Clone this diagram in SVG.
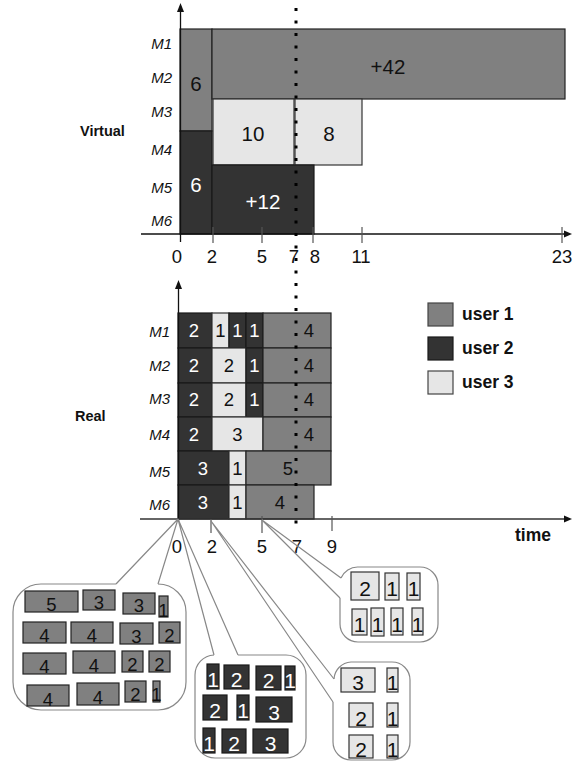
<svg xmlns="http://www.w3.org/2000/svg" width="573" height="767" viewBox="0 0 573 767">
<style>
text{font-family:"Liberation Sans",Arial,sans-serif;fill:#111}
.g{fill:#808080;stroke:#222;stroke-width:1.2}
.d{fill:#333;stroke:#1a1a1a;stroke-width:1.2}
.l{fill:#e6e6e6;stroke:#333;stroke-width:1.2}
.n{font-size:20.5px;text-anchor:middle}
.rn{font-size:18.5px;text-anchor:middle}
.w{fill:#fff}
.m{font-size:15px;font-style:italic;text-anchor:end}
.ax{font-size:18.5px;text-anchor:middle}
.b{font-weight:bold;font-size:17px}
.bub{fill:none;stroke:#888;stroke-width:1.2}
.tick{stroke:#555;stroke-width:1.2}
.axis{stroke:#111;stroke-width:1.3;fill:none}
.arr{fill:#111}
.b1{font-size:18.5px;text-anchor:middle}
.b2{font-size:21px;text-anchor:middle}
.dot{stroke:#000;stroke-width:3;stroke-dasharray:3 9.5;fill:none}
</style>
<rect x="0" y="0" width="573" height="767" fill="#fff"/>

<g id="virtual-chart">
  <rect class="g" x="180" y="29" width="32" height="102"/>
  <rect class="g" x="212" y="29" width="353" height="70"/>
  <rect class="l" x="213" y="99" width="81" height="66"/>
  <rect class="l" x="295" y="99" width="67" height="66"/>
  <rect class="d" x="180" y="131" width="32" height="103"/>
  <rect class="d" x="212" y="165" width="102" height="69"/>
  <text class="n" x="196" y="91">6</text>
  <text class="n" x="388" y="74">+42</text>
  <text class="n" x="253" y="141">10</text>
  <text class="n" x="329" y="141">8</text>
  <text class="n w" x="196" y="192">6</text>
  <text class="n w" x="263" y="209">+12</text>
  <text class="m" x="172" y="49">M1</text>
  <text class="m" x="172" y="83">M2</text>
  <text class="m" x="172" y="117">M3</text>
  <text class="m" x="172" y="155">M4</text>
  <text class="m" x="172" y="193">M5</text>
  <text class="m" x="172" y="226">M6</text>
  <text class="b" x="80" y="136" style="font-size:14.5px">Virtual</text>
  <line class="axis" x1="180.5" y1="242" x2="180.5" y2="10"/>
  <polygon class="arr" points="180.5,3 177,12 184,12"/>
  <line class="axis" x1="141" y1="234" x2="565" y2="234"/>
  <polygon class="arr" points="572,234 564,230.5 564,237.5"/>
  <line class="tick" x1="213" y1="227" x2="213" y2="243"/>
  <line class="tick" x1="262" y1="227" x2="262" y2="243"/>
  <line class="tick" x1="313" y1="227" x2="313" y2="243"/>
  <line class="tick" x1="362" y1="227" x2="362" y2="243"/>
  <line class="tick" x1="562" y1="227" x2="562" y2="243"/>
  <text class="ax" x="177" y="263">0</text>
  <text class="ax" x="212" y="263">2</text>
  <text class="ax" x="262" y="263">5</text>
  <text class="ax" x="294" y="263">7</text>
  <text class="ax" x="315" y="263">8</text>
  <text class="ax" x="361" y="263">11</text>
  <text class="ax" x="562" y="263">23</text>
</g>

<g id="real-chart">
  <rect class="d" x="178" y="313" width="34" height="35"/>
  <rect class="l" x="212" y="313" width="17" height="35"/>
  <rect class="d" x="229" y="313" width="17" height="35"/>
  <rect class="d" x="246" y="313" width="17" height="35"/>
  <rect class="g" x="263" y="313" width="68" height="35"/>
  <rect class="d" x="178" y="348" width="34" height="35"/>
  <rect class="l" x="212" y="348" width="34" height="35"/>
  <rect class="d" x="246" y="348" width="17" height="35"/>
  <rect class="g" x="263" y="348" width="68" height="35"/>
  <rect class="d" x="178" y="383" width="34" height="34"/>
  <rect class="l" x="212" y="383" width="34" height="34"/>
  <rect class="d" x="246" y="383" width="17" height="34"/>
  <rect class="g" x="263" y="383" width="68" height="34"/>
  <rect class="d" x="178" y="417" width="34" height="34"/>
  <rect class="l" x="212" y="417" width="51" height="34"/>
  <rect class="g" x="263" y="417" width="68" height="34"/>
  <rect class="d" x="178" y="451" width="51" height="34"/>
  <rect class="l" x="229" y="451" width="17" height="34"/>
  <rect class="g" x="246" y="451" width="85" height="34"/>
  <rect class="d" x="178" y="485" width="51" height="34"/>
  <rect class="l" x="229" y="485" width="17" height="34"/>
  <rect class="g" x="246" y="485" width="68" height="34"/>
  <text class="rn w" x="194" y="337">2</text>
  <text class="rn" x="220.5" y="337">1</text>
  <text class="rn w" x="237.5" y="337">1</text>
  <text class="rn w" x="254.5" y="337">1</text>
  <text class="rn" x="309" y="337">4</text>
  <text class="rn w" x="194" y="372">2</text>
  <text class="rn" x="229" y="372">2</text>
  <text class="rn w" x="254.5" y="372">1</text>
  <text class="rn" x="309" y="372">4</text>
  <text class="rn w" x="194" y="406">2</text>
  <text class="rn" x="229" y="406">2</text>
  <text class="rn w" x="254.5" y="406">1</text>
  <text class="rn" x="309" y="406">4</text>
  <text class="rn w" x="194" y="441">2</text>
  <text class="rn" x="237.5" y="441">3</text>
  <text class="rn" x="309" y="441">4</text>
  <text class="rn w" x="203" y="475">3</text>
  <text class="rn" x="237.5" y="475">1</text>
  <text class="rn" x="288" y="475">5</text>
  <text class="rn w" x="203" y="509">3</text>
  <text class="rn" x="237.5" y="509">1</text>
  <text class="rn" x="280" y="509">4</text>
  <text class="m" x="170" y="337">M1</text>
  <text class="m" x="170" y="371">M2</text>
  <text class="m" x="170" y="404">M3</text>
  <text class="m" x="170" y="440">M4</text>
  <text class="m" x="170" y="477">M5</text>
  <text class="m" x="170" y="510">M6</text>
  <text class="b" x="75" y="421" style="font-size:14.5px">Real</text>
  <line class="axis" x1="178.5" y1="522" x2="178.5" y2="287"/>
  <polygon class="arr" points="178.5,280 175,289 182,289"/>
  <line class="axis" x1="140" y1="519" x2="565" y2="519" style="stroke:#333"/>
  <polygon class="arr" points="572,519 564,515.5 564,522.5"/>
  <line class="tick" x1="211" y1="519" x2="211" y2="533"/>
  <line class="tick" x1="262" y1="516" x2="262" y2="533"/>
  <line class="tick" x1="332" y1="516" x2="332" y2="531"/>
  <text class="ax" x="177" y="553">0</text>
  <text class="ax" x="212" y="553">2</text>
  <text class="ax" x="262" y="553">5</text>
  <text class="ax" x="297" y="553">7</text>
  <text class="ax" x="332" y="553">9</text>
  <text class="b" x="515" y="541" style="font-size:17.5px">time</text>
</g>

<g id="legend">
  <rect class="g" x="428" y="303" width="25" height="23" style="stroke:#444"/>
  <rect class="d" x="428" y="337" width="25" height="23"/>
  <rect class="l" x="428" y="371" width="25" height="23" style="stroke:#444"/>
  <text class="b" x="462" y="320" style="font-size:17.5px">user 1</text>
  <text class="b" x="462" y="354" style="font-size:17.5px">user 2</text>
  <text class="b" x="462" y="388" style="font-size:17.5px">user 3</text>
</g>

<g id="now-line">
  <line class="dot" x1="296" y1="8" x2="296" y2="530"/>
</g>

<g id="connectors">
  <polyline class="bub" points="116,584 178,519 158,584"/>
  <polyline class="bub" points="214,655 178,519 238,655"/>
  <polyline class="bub" points="334,679 211,521 333,702"/>
  <polyline class="bub" points="341,578 262,520 340,598"/>
</g>

<g id="bubble-user1">
  <path class="bub" d="M158,584 A28 28 0 0 1 186,612 L186,682 A28 28 0 0 1 158,710 L41,710 A28 28 0 0 1 13,682 L13,612 A28 28 0 0 1 41,584 L116,584"/>
  <rect class="g" x="25" y="591" width="53" height="21"/>
  <rect class="g" x="83" y="590" width="32" height="20"/>
  <rect class="g" x="123" y="593" width="32" height="21"/>
  <rect class="g" x="159" y="596" width="9" height="21"/>
  <rect class="g" x="23" y="622" width="43" height="21"/>
  <rect class="g" x="71" y="622" width="42" height="21"/>
  <rect class="g" x="120" y="623" width="33" height="21"/>
  <rect class="g" x="159" y="622" width="21" height="21"/>
  <rect class="g" x="23" y="653" width="43" height="21"/>
  <rect class="g" x="73" y="651" width="42" height="22"/>
  <rect class="g" x="122" y="651" width="21" height="21"/>
  <rect class="g" x="149" y="651" width="21" height="21"/>
  <rect class="g" x="27" y="685" width="42" height="21"/>
  <rect class="g" x="77" y="683" width="42" height="22"/>
  <rect class="g" x="125" y="681" width="21" height="21"/>
  <rect class="g" x="153" y="681" width="7" height="21"/>
  <text class="b1" x="51.5" y="611">5</text>
  <text class="b1" x="99" y="609">3</text>
  <text class="b1" x="139" y="612">3</text>
  <text class="b1" x="163.5" y="617">1</text>
  <text class="b1" x="44.5" y="642">4</text>
  <text class="b1" x="92" y="642">4</text>
  <text class="b1" x="136.5" y="643">3</text>
  <text class="b1" x="169.5" y="642">2</text>
  <text class="b1" x="44.5" y="673">4</text>
  <text class="b1" x="94" y="672">4</text>
  <text class="b1" x="132.5" y="671">2</text>
  <text class="b1" x="159.5" y="671">2</text>
  <text class="b1" x="48" y="706">4</text>
  <text class="b1" x="98" y="704">4</text>
  <text class="b1" x="135.5" y="701">2</text>
  <text class="b1" x="156.5" y="701">1</text>
</g>

<g id="bubble-user2">
  <path class="bub" d="M238,655 L286,655 A20 20 0 0 1 306,675 L306,738 A20 20 0 0 1 286,758 L215,758 A20 20 0 0 1 195,738 L195,675 A20 20 0 0 1 214,655"/>
  <rect class="d" x="207" y="664" width="12" height="25"/>
  <rect class="d" x="224" y="665" width="25" height="24"/>
  <rect class="d" x="256" y="666" width="25" height="24"/>
  <rect class="d" x="285" y="666" width="10" height="24"/>
  <rect class="d" x="203" y="695" width="24" height="25"/>
  <rect class="d" x="237" y="695" width="12" height="25"/>
  <rect class="d" x="256" y="697" width="36" height="25"/>
  <rect class="d" x="203" y="728" width="12" height="25"/>
  <rect class="d" x="222" y="729" width="24" height="24"/>
  <rect class="d" x="253" y="729" width="35" height="24"/>
  <text class="b2 w" x="213" y="687">1</text>
  <text class="b2 w" x="236.5" y="687">2</text>
  <text class="b2 w" x="268.5" y="688">2</text>
  <text class="b2 w" x="290" y="688">1</text>
  <text class="b2 w" x="215" y="718">2</text>
  <text class="b2 w" x="243" y="718">1</text>
  <text class="b2 w" x="274" y="720">3</text>
  <text class="b2 w" x="209" y="751">1</text>
  <text class="b2 w" x="234" y="751">2</text>
  <text class="b2 w" x="270.5" y="751">3</text>
</g>

<g id="bubble-user3-t2">
  <path class="bub" d="M334,679 A18 18 0 0 1 351,662 L392,662 A18 18 0 0 1 410,680 L410,742 A18 18 0 0 1 392,760 L351,760 A18 18 0 0 1 333,742 L333,702"/>
  <rect class="l" x="341" y="668" width="34" height="24"/>
  <rect class="l" x="387" y="668" width="11" height="24"/>
  <rect class="l" x="349" y="703" width="24" height="24"/>
  <rect class="l" x="387" y="703" width="11" height="24"/>
  <rect class="l" x="349" y="735" width="24" height="23"/>
  <rect class="l" x="387" y="735" width="11" height="23"/>
  <text class="b2" x="358" y="690">3</text>
  <text class="b2" x="392.5" y="690">1</text>
  <text class="b2" x="361" y="726">2</text>
  <text class="b2" x="392.5" y="726">1</text>
  <text class="b2" x="361" y="757">2</text>
  <text class="b2" x="392.5" y="757">1</text>
</g>

<g id="bubble-user3-t5">
  <path class="bub" d="M341,578 A18 18 0 0 1 358,567 L420,567 A18 18 0 0 1 438,585 L438,624 A18 18 0 0 1 420,642 L358,642 A18 18 0 0 1 340,624 L340,598"/>
  <rect class="l" x="351" y="572" width="28" height="28"/>
  <rect class="l" x="385" y="573" width="14" height="27"/>
  <rect class="l" x="407" y="573" width="13" height="27"/>
  <rect class="l" x="352" y="609" width="15" height="26"/>
  <rect class="l" x="371" y="608" width="13" height="28"/>
  <rect class="l" x="391" y="608" width="12" height="27"/>
  <rect class="l" x="412" y="608" width="11" height="27"/>
  <text class="b2" x="365" y="596">2</text>
  <text class="b2" x="392" y="596">1</text>
  <text class="b2" x="413.5" y="596">1</text>
  <text class="b2" x="359.5" y="632">1</text>
  <text class="b2" x="377.5" y="632">1</text>
  <text class="b2" x="397" y="632">1</text>
  <text class="b2" x="417.5" y="632">1</text>
</g>
</svg>
